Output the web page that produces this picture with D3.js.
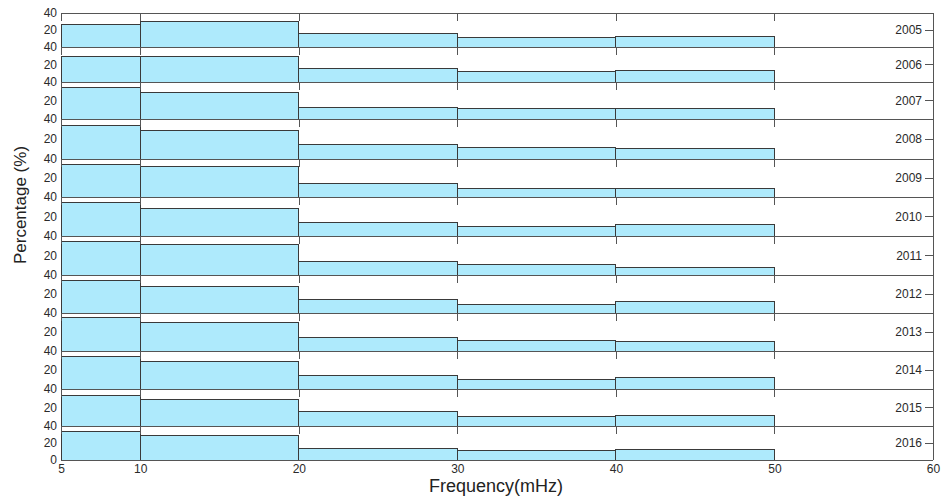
<!DOCTYPE html>
<html>
<head>
<meta charset="utf-8">
<script src="https://cdn.jsdelivr.net/npm/d3@7"></script>
<style>
  html, body { margin: 0; padding: 0; background: #fff; }
  svg { display: block; font-family: "Liberation Sans", Arial, sans-serif; }
</style>
</head>
<body>
<svg id="chart" width="941" height="497"></svg>
<script>
// ---- data ----
const years = [2005, 2006, 2007, 2008, 2009, 2010, 2011, 2012, 2013, 2014, 2015, 2016];
const binEdges = [5, 10, 20, 30, 40, 50];
const xTicks = [5, 10, 20, 30, 40, 50, 60];
const yTicks = [0, 20, 40];
const v2005 = [26.7, 29.8, 16.1, 11.4, 12.9];
const v2006 = [28.9, 29.4, 15.2, 12.2, 13.4];
const v2007 = [33.8, 28.9, 12.6, 11.1, 11.6];
const v2008 = [33.7, 28.7, 14.7, 11.7, 10.7];
const v2009 = [33.7, 31.9, 14.4, 9.2, 9.2];
const v2010 = [34.2, 28.4, 13.7, 9.6, 11.3];
const v2011 = [34.2, 31.5, 14.0, 10.6, 7.9];
const v2012 = [34.0, 27.7, 14.4, 9.1, 11.6];
const v2013 = [35.4, 29.5, 14.0, 10.8, 10.2];
const v2014 = [34.0, 28.8, 13.7, 10.5, 12.3];
const v2015 = [33.5, 28.8, 16.2, 10.1, 11.5];
const v2016 = [33.7, 28.6, 14.1, 10.9, 12.9];
const series = [v2005, v2006, v2007, v2008, v2009, v2010, v2011, v2012, v2013, v2014, v2015, v2016];

const panelEdges = [13, 47, 82, 119, 159, 197, 236, 275, 313, 351, 389, 426, 460];
const left = 61, right = 933;
const fillColor = "#aeeafc";
const lineColor = "#555";
const textColor = "#2a2a2a";

const svg = d3.select("#chart");
const x = d3.scaleLinear().domain([5, 60]).range([left, right]);

years.forEach((yr, i) => {
  const top = panelEdges[i], bottom = panelEdges[i + 1];
  const y = d3.scaleLinear().domain([0, 40]).range([bottom, top]);
  const g = svg.append("g");
  const vals = series[i];

  // bars
  g.selectAll("rect.bar")
    .data(vals)
    .join("rect")
    .attr("class", "bar")
    .attr("x", (d, j) => x(binEdges[j]))
    .attr("width", (d, j) => x(binEdges[j + 1]) - x(binEdges[j]))
    .attr("y", d => y(d))
    .attr("height", d => y(0) - y(d))
    .attr("fill", fillColor)
    .attr("stroke", "#3a3a3a")
    .attr("stroke-width", 1)
    .attr("shape-rendering", "crispEdges");

  // top axis (ticks inward)
  const topAx = d3.axisTop(x).tickValues(xTicks.slice(1, -1)).tickSize(-8).tickFormat("");
  g.append("g").attr("transform", `translate(0,${top})`).call(topAx)
    .call(a => a.select(".domain").attr("stroke", lineColor))
    .call(a => a.selectAll(".tick line").attr("stroke", lineColor))
    .attr("shape-rendering", "crispEdges");

  // bottom line
  g.append("line")
    .attr("x1", left).attr("x2", right)
    .attr("y1", y(0)).attr("y2", y(0))
    .attr("stroke", lineColor).attr("shape-rendering", "crispEdges");

  // left axis labels
  const leftAx = d3.axisLeft(y).tickValues(i === years.length - 1 ? yTicks : yTicks.slice(1)).tickSize(0).tickPadding(4);
  g.append("g").attr("transform", `translate(${left},0)`).call(leftAx)
    .call(a => a.select(".domain").remove())
    .call(a => a.selectAll("text").attr("font-size", 12).attr("fill", textColor)
      .attr("font-family", "'Liberation Sans', Arial, sans-serif"));

  // right axis with year label
  const yMid = (top + bottom) / 2;
  g.append("line")
    .attr("x1", right).attr("x2", right).attr("y1", top).attr("y2", bottom)
    .attr("stroke", lineColor).attr("shape-rendering", "crispEdges");
  g.append("line")
    .attr("x1", right - 8).attr("x2", right).attr("y1", yMid).attr("y2", yMid)
    .attr("stroke", lineColor).attr("shape-rendering", "crispEdges");
  g.append("text")
    .attr("x", right - 11).attr("y", yMid).attr("dy", "0.35em")
    .attr("text-anchor", "end")
    .attr("font-size", 12).attr("fill", textColor)
    .text(yr);
});

// bottom x axis labels
const xb = d3.axisBottom(x).tickValues(xTicks).tickSize(0).tickPadding(4);
svg.append("g").attr("transform", `translate(0,${panelEdges[panelEdges.length - 1]})`).call(xb)
  .call(a => a.select(".domain").remove())
  .call(a => a.selectAll("text").attr("font-size", 12).attr("fill", textColor)
    .attr("font-family", "'Liberation Sans', Arial, sans-serif"));

// axis titles
svg.append("text")
  .attr("transform", "translate(26,205) rotate(-90)")
  .attr("text-anchor", "middle")
  .attr("font-size", 17).attr("fill", "#222")
  .text("Percentage (%)");
svg.append("text")
  .attr("x", 496).attr("y", 492)
  .attr("text-anchor", "middle")
  .attr("font-size", 18).attr("fill", "#222")
  .text("Frequency(mHz)");
</script>
</body>
</html>
